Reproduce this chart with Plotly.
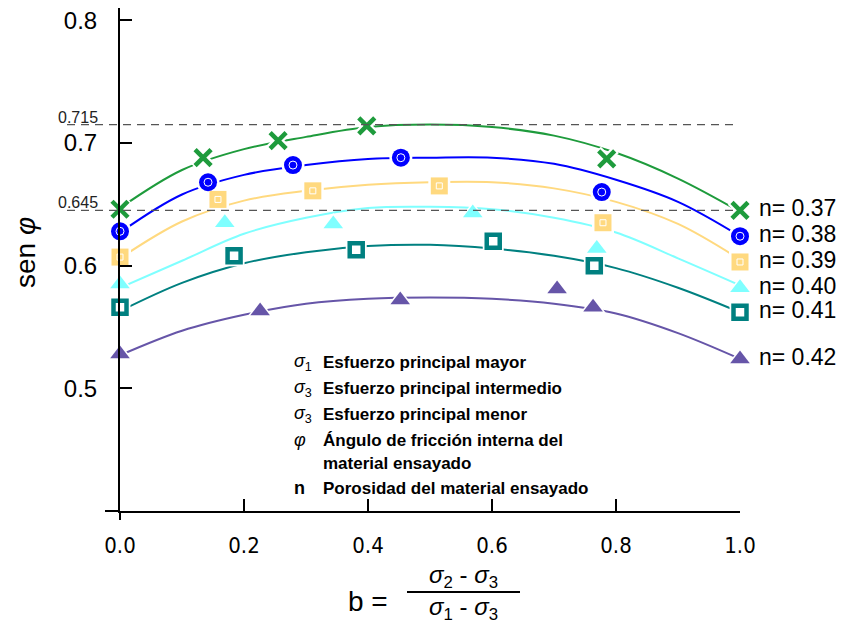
import plotly.graph_objects as go

# ---------------- data ----------------
b_fit = [0.0, 0.1, 0.2, 0.3, 0.4, 0.5, 0.6, 0.7, 0.8, 0.9, 1.0]

n_labels = ["n= 0.37", "n= 0.38", "n= 0.39", "n= 0.40", "n= 0.41", "n= 0.42"]

b_037 = [0.0, 0.134, 0.255, 0.398, 0.785, 1.0]
s_037 = [0.646, 0.688, 0.702, 0.714, 0.687, 0.645]
fit_037 = [0.647, 0.678, 0.695, 0.705, 0.713, 0.715, 0.713, 0.706, 0.692, 0.671, 0.644]

b_038 = [0.0, 0.142, 0.279, 0.453, 0.777, 1.0]
s_038 = [0.628, 0.668, 0.682, 0.688, 0.660, 0.624]
fit_038 = [0.627, 0.658, 0.674, 0.682, 0.687, 0.688, 0.688, 0.683, 0.670, 0.652, 0.624]

b_039 = [0.0, 0.158, 0.311, 0.515, 0.779, 1.0]
s_039 = [0.607, 0.654, 0.661, 0.665, 0.635, 0.603]
fit_039 = [0.606, 0.636, 0.653, 0.661, 0.666, 0.668, 0.668, 0.663, 0.652, 0.634, 0.605]

b_040 = [0.0, 0.169, 0.344, 0.569, 0.769, 1.0]
s_040 = [0.585, 0.635, 0.634, 0.643, 0.614, 0.582]
fit_040 = [0.582, 0.604, 0.626, 0.639, 0.647, 0.648, 0.646, 0.639, 0.627, 0.606, 0.584]

b_041 = [0.0, 0.184, 0.381, 0.602, 0.765, 1.0]
s_041 = [0.566, 0.608, 0.613, 0.620, 0.600, 0.562]
fit_041 = [0.563, 0.586, 0.602, 0.611, 0.616, 0.617, 0.614, 0.608, 0.598, 0.582, 0.562]

b_042 = [0.0, 0.226, 0.452, 0.705, 0.763, 1.0]
s_042 = [0.528, 0.563, 0.572, 0.581, 0.566, 0.524]
fit_042 = [0.527, 0.547, 0.560, 0.569, 0.573, 0.574, 0.573, 0.569, 0.561, 0.545, 0.524]

ref_levels = [0.715, 0.645]
ref_labels = ["0.715", "0.645"]

x_ticks = [0.0, 0.2, 0.4, 0.6, 0.8, 1.0]
x_ticktext = ["0.0", "0.2", "0.4", "0.6", "0.8", "1.0"]
y_ticks = [0.5, 0.6, 0.7, 0.8]
y_ticktext = ["0.5", "0.6", "0.7", "0.8"]

notes_sym = ["<i>σ</i><sub>1</sub>", "<i>σ</i><sub>3</sub>", "<i>σ</i><sub>3</sub>", "<i>φ</i>", "", "<b>n</b>"]
notes_txt = ["Esfuerzo principal mayor", "Esfuerzo principal intermedio",
             "Esfuerzo principal menor", "Ángulo de fricción interna del",
             "material ensayado", "Porosidad del material ensayado"]

# ---------------- styles ----------------
FONT = "Liberation Sans, Arial, Helvetica, sans-serif"
NARROW = "Liberation Sans Narrow, Arial Narrow, DejaVu Sans Condensed, sans-serif"

styles = [
    dict(color="#1e9b3c", symbol="x-thin", size=16, lw=4.5, halo="x-thin", halo_size=18, halo_lw=9),
    dict(color="#0000ff", symbol="circle", size=18, lw=0, halo="circle", halo_size=23, halo_lw=0,
         inner="circle-open", inner_size=8),
    dict(color="#ffd97f", symbol="square", size=17, lw=0, halo="square", halo_size=22, halo_lw=0,
         inner="square-open", inner_size=6),
    dict(color="#7fffff", symbol="triangle-up", size=17, lw=0, halo="triangle-up", halo_size=22, halo_lw=0),
    dict(color="#008080", symbol="square-open", size=13, lw=4.5, halo="square", halo_size=21, halo_lw=0),
    dict(color="#6655a8", symbol="triangle-up", size=17, lw=0, halo="triangle-up", halo_size=22, halo_lw=0),
]

data_b = [b_037, b_038, b_039, b_040, b_041, b_042]
data_s = [s_037, s_038, s_039, s_040, s_041, s_042]
data_fit = [fit_037, fit_038, fit_039, fit_040, fit_041, fit_042]

fig = go.Figure()

for fit, st in zip(data_fit, styles):
    fig.add_trace(go.Scatter(x=b_fit, y=fit, mode="lines", line=dict(color=st["color"], width=2, shape="spline"),
                             cliponaxis=False, showlegend=False, hoverinfo="skip"))

for b, s, st in zip(data_b, data_s, styles):
    fig.add_trace(go.Scatter(x=b, y=s, mode="markers", cliponaxis=False, showlegend=False, hoverinfo="skip",
                             marker=dict(symbol=st["halo"], size=st["halo_size"], color="white",
                                         line=dict(color="white", width=st["halo_lw"]))))

for b, s, st, lab in zip(data_b, data_s, styles, n_labels):
    fig.add_trace(go.Scatter(x=b, y=s, mode="markers", cliponaxis=False, showlegend=False, name=lab,
                             marker=dict(symbol=st["symbol"], size=st["size"], color=st["color"],
                                         line=dict(color=st["color"], width=st["lw"]))))
    if "inner" in st:
        fig.add_trace(go.Scatter(x=b, y=s, mode="markers", cliponaxis=False, showlegend=False, hoverinfo="skip",
                                 marker=dict(symbol=st["inner"], size=st["inner_size"], color="white",
                                             line=dict(color="white", width=1.0))))

# page body has an 8px margin: figure drawn at (8, 8) in the window
OFF = 8
WIN_W, WIN_H = 847, 624
W, H = WIN_W - OFF, WIN_H - OFF
# plot area in window pixels
L, R, T, B = 120, 740, 8, 511
pw, ph = R - L, B - T


def px(xp):
    return (xp - L) / pw


def py(yp):
    return (B - yp) / ph


shapes = []
for lev in ref_levels:
    shapes.append(dict(type="line", xref="paper", yref="y", x0=px(67), x1=px(738), y0=lev, y1=lev,
                       line=dict(color="#555555", width=1.3, dash="8px,6px")))
shapes.append(dict(type="line", xref="paper", yref="paper", x0=px(105), x1=0, y0=0, y1=0,
                   line=dict(color="black", width=2)))
shapes.append(dict(type="line", xref="paper", yref="paper", x0=0, x1=0, y0=py(520), y1=0,
                   line=dict(color="black", width=2)))
shapes.append(dict(type="line", xref="paper", yref="paper", x0=px(407), x1=px(520), y0=py(592), y1=py(592),
                   line=dict(color="black", width=2)))

ann = []
for lev, lab in zip(ref_levels, ref_labels):
    ann.append(dict(xref="paper", yref="y", x=px(100), y=lev, text=lab, showarrow=False, xanchor="right",
                    yanchor="bottom", yshift=-3, font=dict(family=FONT, size=16, color="#222222")))

for s, lab in zip(data_s, n_labels):
    ann.append(dict(xref="paper", yref="y", x=px(757), y=s[-1], text=lab, showarrow=False, xanchor="left",
                    yanchor="middle", yshift=2, font=dict(family=FONT, size=23, color="black")))

note_y = [362, 388, 414, 440, 463, 488]
for sym, txt, yy in zip(notes_sym, notes_txt, note_y):
    if sym:
        ann.append(dict(xref="paper", yref="paper", x=px(292), y=py(yy), text=sym, showarrow=False,
                        xanchor="left", yanchor="middle", font=dict(family=FONT, size=18, color="black")))
    ann.append(dict(xref="paper", yref="paper", x=px(321), y=py(yy), text="<b>" + txt + "</b>", showarrow=False,
                    xanchor="left", yanchor="middle", font=dict(family=FONT, size=17, color="black")))

ann.append(dict(xref="paper", yref="paper", x=px(25), y=py(253), text="sen <i>φ</i>", textangle=-90,
                showarrow=False, xanchor="center", yanchor="middle", font=dict(family=FONT, size=28, color="black")))
ann.append(dict(xref="paper", yref="paper", x=px(368), y=py(601), text="b =", showarrow=False,
                xanchor="center", yanchor="middle", font=dict(family=FONT, size=28, color="black")))
ann.append(dict(xref="paper", yref="paper", x=px(463), y=py(576), text="<i>σ</i><sub>2</sub> - <i>σ</i><sub>3</sub>",
                showarrow=False, xanchor="center", yanchor="middle", font=dict(family=FONT, size=24, color="black")))
ann.append(dict(xref="paper", yref="paper", x=px(463), y=py(608), text="<i>σ</i><sub>1</sub> - <i>σ</i><sub>3</sub>",
                showarrow=False, xanchor="center", yanchor="middle", font=dict(family=FONT, size=24, color="black")))

fig.update_layout(
    width=W, height=H,
    margin=dict(l=L - OFF, r=WIN_W - R, t=T - OFF, b=WIN_H - B, pad=0),
    paper_bgcolor="white", plot_bgcolor="white",
    showlegend=False,
    shapes=shapes, annotations=ann,
    xaxis=dict(range=[0, 1], tickvals=x_ticks, ticktext=x_ticktext, ticks="inside", ticklen=12, tickwidth=1.5,
               tickcolor="black", showline=True, linecolor="black", linewidth=2, showgrid=False, zeroline=False,
               ticklabelstandoff=14, ticklabeloverflow="allow",
               tickfont=dict(family=NARROW, size=22, color="black")),
    yaxis=dict(range=[0.4, 0.4 + ph / 1226.7], tickvals=y_ticks, ticktext=y_ticktext, ticks="inside", ticklen=12,
               tickwidth=2, tickcolor="black", showline=True, linecolor="black", linewidth=2, showgrid=False,
               zeroline=False, ticklabelstandoff=16, ticklabeloverflow="allow",
               tickfont=dict(family=FONT, size=24, color="black")),
)

fig.write_html("out.html")
